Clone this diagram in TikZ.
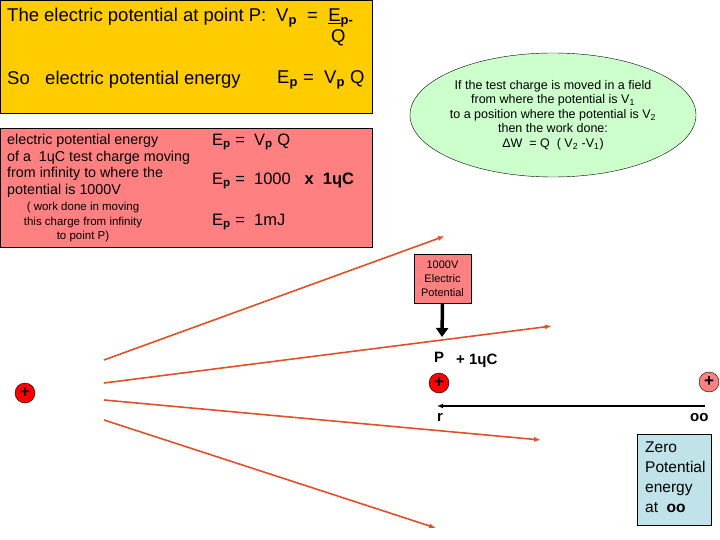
\documentclass[tikz,border=0pt]{standalone}
\usepackage{fontspec}
\setmainfont{Liberation Sans}
\usetikzlibrary{arrows.meta,shapes.geometric}
\definecolor{ylw}{HTML}{FFCC00}
\definecolor{pnk}{HTML}{FF8080}
\definecolor{grn}{HTML}{CCFFCC}
\definecolor{blu}{HTML}{BFE3E8}
\definecolor{fld}{HTML}{E0502A}
\tikzset{x=1pt,y=-1pt,
 fieldline/.style={fld,line width=1.6pt,-{Latex[length=7pt,width=5pt]}},
 charge/.style={circle,draw=black,fill=red,minimum size=20pt,inner sep=0pt,font=\bfseries\fontsize{17}{17}\selectfont},
 lbl/.style={inner sep=0pt,anchor=west}}
\begin{document}
\begin{tikzpicture}
\useasboundingbox (0,0) rectangle (720,540);
% field lines
\coordinate (s1) at (104,360); \coordinate (e1) at (445,236);
\coordinate (s2) at (104,383); \coordinate (e2) at (552,326);
\coordinate (s3) at (104,400); \coordinate (e3) at (541,440);
\coordinate (s4) at (104,420); \coordinate (e4) at (436,528);
\draw[fieldline] (s1) -- (e1);
\draw[fieldline] (s2) -- (e2);
\draw[fieldline] (s3) -- (e3);
\draw[fieldline] (s4) -- (e4);
% boxes
\node[draw,fill=ylw,minimum width=372pt,minimum height=113pt,anchor=north west,inner sep=0pt] (yb) at (0,0) {};
\node[lbl,font=\fontsize{18.5}{18.5}\selectfont] (t1) at (7,17) {The electric potential at point P:};
\node[lbl,font=\fontsize{18.5}{18.5}\selectfont] (t2) at (276,18) {V\textsubscript{\textbf{p}}\ \ =\ \ \underline{E}\textsubscript{\textbf{p-}}};
\node[lbl,font=\fontsize{18.5}{18.5}\selectfont] (t3) at (331,38) {Q};
\node[lbl,font=\fontsize{18.5}{18.5}\selectfont] (t4) at (7,80) {So\ \ \ electric potential energy};
\node[lbl,font=\fontsize{18.5}{18.5}\selectfont] (t5) at (277,80) {E\textsubscript{\textbf{p}} = \ V\textsubscript{\textbf{p}} Q};
\node[draw,fill=pnk,minimum width=372pt,minimum height=119pt,anchor=north west,inner sep=0pt] (pb) at (0,128) {};
\node[lbl,anchor=north west,align=left,font=\fontsize{14.3}{16.5}\selectfont] (d1) at (7,134) {electric potential energy\\of a \ 1ɥC\ test charge moving\\from infinity to where the\\potential is 1000V};
\node[anchor=north,align=center,inner sep=0pt,font=\fontsize{11.5}{14.5}\selectfont] (d2) at (83,202) {( work done in moving\\this charge from infinity\\to point P)};
\node[lbl,font=\fontsize{16.5}{16.5}\selectfont] (q1) at (212,142) {E\textsubscript{\textbf{p}} = \ V\textsubscript{\textbf{p}} Q};
\node[lbl,font=\fontsize{16.5}{16.5}\selectfont] (q2) at (212,181) {E\textsubscript{\textbf{p}} = \ 1000 \ \ \textbf{x\ \ 1ɥC}};
\node[lbl,font=\fontsize{16.5}{16.5}\selectfont] (q3) at (212,222) {E\textsubscript{\textbf{p}} = \ 1mJ};
% ellipse
\node[ellipse,draw,fill=grn,minimum width=286pt,minimum height=124pt,inner sep=0pt] (el) at (553,115) {};
\node[align=center,font=\fontsize{12.5}{14.5}\selectfont,inner sep=0pt] (et) at (553,115) {If the test charge is moved in a field\\from where the potential is V\textsubscript{1}\\to a position where the potential is V\textsubscript{2}\\then the work done:\\ΔW \ = Q \ ( V\textsubscript{2} -V\textsubscript{1})};
% potential box + arrow
\node[draw,fill=pnk,minimum width=57pt,minimum height=49pt,align=center,inner sep=0pt,font=\fontsize{11}{14}\selectfont] (vb) at (442.5,278.5) {1000V\\Electric\\Potential};
\coordinate (pa) at (442,337);
\draw[line width=3.5pt,-{Triangle[length=9pt,width=12pt]}] (vb.south) -- (pa);
% charges
\node[charge] (qs) at (25,393) {+};
\node[charge] (qp) at (439,383) {+};
\node[charge,fill=pnk] (qi) at (709,382) {+};
\node[lbl,font=\bfseries\fontsize{15}{15}\selectfont] (pl) at (434,357) {P};
\node[lbl,font=\bfseries\fontsize{15}{15}\selectfont] (cl) at (456,361) {+ 1ɥC};
\coordinate (ra) at (705,406); \coordinate (rb) at (437,406);
\draw[line width=1.3pt,-{Latex[length=6pt,width=5pt]}] (ra) -- (rb);
\node[lbl,font=\bfseries\fontsize{15}{15}\selectfont] (rl) at (437,417) {r};
\node[lbl,font=\bfseries\fontsize{15}{15}\selectfont] (il) at (690,418) {oo};
\node[draw,fill=blu,minimum width=74pt,minimum height=91pt,anchor=north west,inner sep=0pt] (zb) at (637,434) {};
\node[anchor=north west,align=left,inner sep=0pt,font=\fontsize{15.5}{20}\selectfont] (zt) at (645,442) {Zero\\Potential\\energy\\at \ \textbf{oo}};
\end{tikzpicture}
\end{document}
